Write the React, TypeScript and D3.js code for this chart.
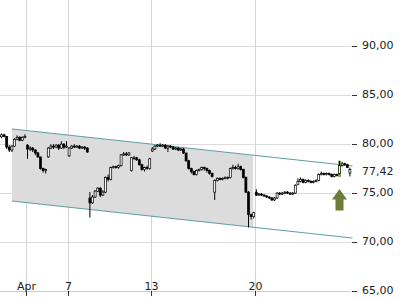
import React from 'react';
import * as d3 from 'd3';

// candle tuple: [open, high, low, close]
type C = [number, number, number, number];

const mar30: C[] = [[80.75, 81.1, 80.6, 80.95], [80.95, 81.05, 80.7, 80.8]];
const mar31: C[] = [[80.8, 80.8, 79.5, 79.7], [79.7, 79.9, 79.2, 79.4], [79.4, 79.9, 79.2, 79.8], [79.8, 80.6, 79.7, 80.5], [80.5, 80.9, 80.4, 80.7], [80.7, 80.8, 80.3, 80.4], [80.4, 80.8, 80.3, 80.7], [80.7, 81.0, 80.6, 80.8]];
const apr1: C[] = [[79.9, 80.0, 78.5, 79.5], [79.5, 79.8, 79.3, 79.6], [79.6, 79.7, 79.2, 79.4], [79.4, 79.5, 78.9, 79.1], [79.1, 79.2, 78.6, 78.7], [78.7, 78.7, 77.4, 77.5], [77.5, 77.6, 77.1, 77.3], [77.3, 77.5, 77.0, 77.4]];
const apr6: C[] = [[78.7, 79.7, 78.6, 79.6], [79.6, 80.0, 79.5, 79.8], [79.8, 80.0, 79.5, 79.7], [79.7, 80.0, 79.6, 79.9], [79.9, 80.0, 79.4, 79.6], [79.6, 80.3, 79.5, 80.0], [80.0, 80.1, 79.5, 79.7], [79.7, 80.3, 79.6, 79.8]];
const apr7: C[] = [[78.8, 79.7, 78.7, 79.6], [79.6, 79.9, 79.5, 79.8], [79.8, 80.0, 79.6, 79.7], [79.7, 79.9, 79.6, 79.8], [79.8, 79.9, 79.5, 79.6], [79.6, 79.8, 79.5, 79.7], [79.7, 79.8, 79.4, 79.6], [79.6, 79.7, 79.1, 79.2]];
const apr8: C[] = [[74.5, 75.1, 72.5, 74.0], [74.0, 74.8, 73.9, 74.6], [74.6, 75.3, 74.5, 75.2], [75.2, 75.6, 75.1, 75.5], [75.5, 75.6, 74.6, 74.8], [74.8, 75.3, 74.7, 75.1], [75.1, 76.7, 75.0, 76.6], [76.6, 76.9, 76.2, 76.4]];
const apr9: C[] = [[76.4, 77.7, 76.3, 77.6], [77.6, 77.8, 77.5, 77.7], [77.7, 77.8, 77.5, 77.6], [77.6, 77.9, 77.5, 77.8], [77.8, 79.0, 77.7, 78.9], [78.9, 79.2, 78.8, 79.0], [79.0, 79.2, 78.8, 78.9], [78.9, 79.2, 78.8, 79.1]];
const apr12: C[] = [[77.3, 78.7, 77.2, 78.6], [78.6, 78.8, 78.4, 78.6], [78.6, 78.7, 78.3, 78.4], [78.4, 78.5, 77.8, 77.9], [77.9, 78.0, 77.3, 77.4], [77.4, 77.7, 77.2, 77.6], [77.6, 77.8, 77.4, 77.5], [77.5, 78.6, 77.4, 78.5]];
const apr13: C[] = [[79.3, 79.7, 79.2, 79.5], [79.5, 79.9, 79.4, 79.8], [79.8, 80.0, 79.7, 79.9], [79.9, 80.1, 79.7, 79.8], [79.8, 80.0, 79.7, 79.9], [79.9, 80.0, 79.5, 79.6], [79.6, 79.9, 79.2, 79.8], [79.8, 79.9, 79.6, 79.7]];
const apr14: C[] = [[79.7, 79.8, 79.4, 79.5], [79.5, 79.7, 79.4, 79.6], [79.6, 79.7, 79.3, 79.4], [79.4, 79.6, 79.3, 79.5], [79.5, 79.6, 79.0, 79.1], [79.1, 79.1, 78.2, 78.3], [78.3, 78.4, 77.4, 77.5], [77.5, 77.6, 77.0, 77.2]];
const apr15: C[] = [[77.2, 77.3, 76.8, 76.9], [76.9, 77.4, 76.8, 77.3], [77.3, 77.5, 77.2, 77.4], [77.4, 77.7, 77.3, 77.6], [77.6, 77.7, 77.3, 77.5], [77.5, 77.6, 77.1, 77.3], [77.3, 77.4, 76.9, 77.0], [77.0, 77.1, 76.6, 76.7]];
const apr16: C[] = [[75.1, 76.4, 74.3, 76.3], [76.3, 76.6, 76.2, 76.5], [76.5, 76.6, 76.3, 76.4], [76.4, 76.6, 76.3, 76.5], [76.5, 76.7, 76.4, 76.6], [76.6, 76.7, 76.4, 76.6], [76.6, 77.6, 76.5, 77.5], [77.5, 77.9, 77.4, 77.6]];
const apr19: C[] = [[77.6, 77.8, 77.4, 77.5], [77.5, 78.0, 77.4, 77.7], [77.7, 77.8, 77.3, 77.4], [77.4, 77.5, 76.5, 76.6], [76.6, 76.7, 75.0, 75.1], [75.1, 75.2, 71.5, 72.8], [72.8, 72.9, 72.3, 72.6], [72.6, 73.1, 72.4, 73.0]];
const apr20: C[] = [[75.1, 75.4, 74.7, 74.8], [74.8, 75.0, 74.7, 74.9], [74.9, 75.0, 74.7, 74.8], [74.8, 74.9, 74.6, 74.7], [74.7, 74.8, 74.5, 74.6], [74.6, 74.7, 74.4, 74.5], [74.5, 74.6, 74.2, 74.3], [74.3, 74.6, 74.2, 74.5]];
const apr21: C[] = [[74.5, 75.1, 74.4, 75.0], [75.0, 75.1, 74.8, 74.9], [74.9, 75.1, 74.8, 75.0], [75.0, 75.2, 74.9, 75.1], [75.1, 75.2, 74.9, 75.0], [75.0, 75.1, 74.8, 74.9], [74.9, 75.1, 74.8, 75.0], [75.0, 75.9, 74.9, 75.8]];
const apr22: C[] = [[75.9, 76.5, 75.8, 76.2], [76.2, 76.6, 76.1, 76.4], [76.4, 76.5, 76.0, 76.1], [76.1, 76.4, 76.0, 76.3], [76.3, 76.4, 76.1, 76.2], [76.2, 76.3, 76.0, 76.1], [76.1, 76.3, 76.0, 76.2], [76.2, 76.4, 76.1, 76.3]];
const apr23: C[] = [[76.3, 77.0, 76.2, 76.9], [76.9, 77.2, 76.8, 77.0], [77.0, 77.1, 76.8, 76.9], [76.9, 77.1, 76.8, 77.0], [77.0, 77.1, 76.8, 76.9], [76.9, 77.0, 76.6, 76.7], [76.7, 77.0, 76.6, 76.9], [76.9, 77.0, 76.7, 76.8]];
const apr26: C[] = [[77.0, 78.3, 76.9, 77.8], [77.8, 78.2, 77.7, 78.0], [78.0, 78.1, 77.8, 77.9], [77.9, 78.0, 77.6, 77.6], [77.05, 77.6, 76.7, 77.42]];

const sessions: { date: string; candles: C[] }[] = [
  { date: 'Mar 30', candles: mar30 },
  { date: 'Mar 31', candles: mar31 },
  { date: 'Apr 1', candles: apr1 },
  { date: 'Apr 6', candles: apr6 },
  { date: 'Apr 7', candles: apr7 },
  { date: 'Apr 8', candles: apr8 },
  { date: 'Apr 9', candles: apr9 },
  { date: 'Apr 12', candles: apr12 },
  { date: 'Apr 13', candles: apr13 },
  { date: 'Apr 14', candles: apr14 },
  { date: 'Apr 15', candles: apr15 },
  { date: 'Apr 16', candles: apr16 },
  { date: 'Apr 19', candles: apr19 },
  { date: 'Apr 20', candles: apr20 },
  { date: 'Apr 21', candles: apr21 },
  { date: 'Apr 22', candles: apr22 },
  { date: 'Apr 23', candles: apr23 },
  { date: 'Apr 26', candles: apr26 },
];

const xTicks = [
  { date: 'Apr 1', label: 'Apr' },
  { date: 'Apr 7', label: '7' },
  { date: 'Apr 13', label: '13' },
  { date: 'Apr 20', label: '20' },
];

const yTicks = [65, 70, 75, 80, 85, 90];
const lastPrice = 77.42;

// trend channel: [candle index, value]
const channelUpper: [number, number][] = [[2, 81.55], [133, 77.77]];
const channelLower: [number, number][] = [[2, 74.19], [133, 70.41]];
const shadeEndIdx = 94.8;

const signalIdx = 128;
const signalBand: [number, number] = [76.65, 78.3];
const arrowTipValue = 75.42;

const SLOTS = 8;

export default function App() {
  const W = 400, H = 300;
  const plotRight = 351;
  const plotBottom = 291;

  const x = d3.scaleLinear().domain([0, 130]).range([6.7, 6.7 + 2.6 * 130]);
  const y = d3.scaleLinear().domain([65, 90]).range([291, 46.25]);

  const fmt = (v: number) => d3.format('.2f')(v).replace('.', ',');

  // flatten candles with indices
  const candles: { idx: number; c: C }[] = [];
  const dayStart: Record<string, number> = {};
  sessions.forEach((s, i) => {
    const start = i === 0 ? -s.candles.length : (i - 1) * SLOTS;
    dayStart[s.date] = start;
    s.candles.forEach((c, j) => candles.push({ idx: start + j, c }));
  });

  const up = d3.scaleLinear().domain([channelUpper[0][0], channelUpper[1][0]]).range([channelUpper[0][1], channelUpper[1][1]]);
  const lo = d3.scaleLinear().domain([channelLower[0][0], channelLower[1][0]]).range([channelLower[0][1], channelLower[1][1]]);
  const s0 = channelUpper[0][0];
  const shade = [
    [x(s0), y(up(s0))],
    [x(shadeEndIdx), y(up(shadeEndIdx))],
    [x(shadeEndIdx), y(lo(shadeEndIdx))],
    [x(s0), y(lo(s0))],
  ];
  const line = d3.line<[number, number]>().x(d => x(d[0])).y(d => y(d[1]));

  const sx = x(signalIdx);
  const tipY = y(arrowTipValue);
  const arrowPts = [
    [sx, tipY],
    [sx + 7.5, tipY + 10.5],
    [sx + 4, tipY + 10.5],
    [sx + 4, tipY + 21.5],
    [sx - 4, tipY + 21.5],
    [sx - 4, tipY + 10.5],
    [sx - 7.5, tipY + 10.5],
  ].map(p => p.join(',')).join(' ');

  const font = 'DejaVu Sans, sans-serif';

  return (
    <svg width={W} height={H} style={{ position: 'absolute', left: 0, top: 0, background: '#fff' }} xmlns="http://www.w3.org/2000/svg">
      {/* horizontal grid */}
      {yTicks.filter(v => v > 65).map(v => (
        <line key={'hg' + v} x1={0} x2={plotRight} y1={Math.round(y(v)) + 0.5} y2={Math.round(y(v)) + 0.5} stroke="#dcdcdc" strokeWidth={1} />
      ))}
      {/* vertical grid */}
      {xTicks.map(t => {
        const xx = Math.round(x(dayStart[t.date] - 0.5)) + 0.5;
        return <line key={'vg' + t.label} x1={xx} x2={xx} y1={0} y2={plotBottom} stroke="#d4d4d4" strokeWidth={1} />;
      })}
      {/* channel shading */}
      <polygon points={shade.map(p => p.join(',')).join(' ')} fill="#dcdcdc" />
      <path d={line(channelUpper) || ''} stroke="#5e9fa0" strokeWidth={1} fill="none" />
      <path d={line(channelLower) || ''} stroke="#5e9fa0" strokeWidth={1} fill="none" />
      {/* signal highlight */}
      <rect x={sx - 1.5} width={3} y={y(signalBand[1])} height={y(signalBand[0]) - y(signalBand[1])} fill="#7f9446" opacity={0.85} />
      {/* candles */}
      {candles.map(({ idx, c }) => {
        const [o, h, l, cl] = c;
        const cx = x(idx);
        const top = y(Math.max(o, cl));
        const bh = Math.max(Math.abs(y(o) - y(cl)), 0.8);
        const upC = cl >= o;
        return (
          <g key={'c' + idx}>
            <line x1={cx} x2={cx} y1={y(h)} y2={y(l)} stroke="#000" strokeWidth={1} />
            <rect x={cx - 1} width={2} y={top} height={bh} fill={upC ? '#fff' : '#000'} stroke="#000" strokeWidth={0.7} />
          </g>
        );
      })}
      {/* arrow */}
      <polygon points={arrowPts} fill="#6b7d37" />
      {/* bottom axis */}
      <line x1={0} x2={plotRight} y1={plotBottom + 0.5} y2={plotBottom + 0.5} stroke="#cccccc" strokeWidth={1} />
      {xTicks.map(t => {
        const xx = Math.round(x(dayStart[t.date] - 0.5)) + 0.5;
        return (
          <g key={'xt' + t.label}>
            <line x1={xx} x2={xx} y1={plotBottom} y2={plotBottom + 5} stroke="#333" strokeWidth={1} />
            <text x={xx} y={plotBottom - 1} textAnchor="middle" fontFamily={font} fontSize={11} fill="#222">{t.label}</text>
          </g>
        );
      })}
      {/* right axis */}
      {yTicks.map(v => (
        <g key={'yt' + v}>
          <line x1={352} x2={357} y1={Math.round(y(v)) + 0.5} y2={Math.round(y(v)) + 0.5} stroke="#333" strokeWidth={1} />
          <text x={362} y={y(v)} dominantBaseline="middle" fontFamily={font} fontSize={11} fill="#222">{fmt(v)}</text>
        </g>
      ))}
      <text x={362} y={y(lastPrice) + 3} dominantBaseline="middle" fontFamily={font} fontSize={11} fill="#222">{fmt(lastPrice)}</text>
    </svg>
  );
}
